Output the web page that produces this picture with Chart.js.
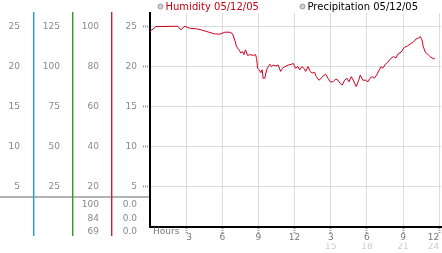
<!DOCTYPE html>
<html lang="en">
<head>
<meta charset="UTF-8">
<title>Humidity 05/12/05</title>
<script src="https://cdn.jsdelivr.net/npm/chart.js"></script>
<style>
  html, body { margin: 0; padding: 0; background: #fff; }
</style>
</head>
<body>
<canvas id="humChart" width="442" height="253"></canvas>
<script>
// readings (hours since midnight, value on the 0-25 scale)
const hours = [0, 0.5, 2.3, 2.58, 2.87, 3.28, 3.97, 4.24, 4.66, 5.36, 5.8, 6.21, 6.63, 6.85, 7.04, 7.18,
  7.38, 7.54, 7.68, 7.79, 7.93, 8.1, 8.29, 8.56, 8.76, 8.85, 8.93, 9.06, 9.2, 9.31, 9.39, 9.53,
  9.68, 9.81, 9.95, 10.09, 10.22, 10.42, 10.64, 10.84, 11.0, 11.2, 11.47, 11.75, 11.89, 12.08,
  12.28, 12.42, 12.61, 12.77, 12.92, 13.11, 13.3, 13.46, 13.66, 13.8, 14.02, 14.21, 14.41, 14.58,
  14.77, 14.96, 15.18, 15.41, 15.6, 15.79, 15.96, 16.15, 16.35, 16.51, 16.7, 16.9, 17.12, 17.32,
  17.45, 17.67, 17.9, 18.09, 18.26, 18.42, 18.61, 18.81, 19.03, 19.17, 19.31, 19.53, 19.73, 20.0,
  20.19, 20.42, 20.56, 20.83, 21.1, 21.39, 21.66, 21.85, 22.08, 22.3, 22.43, 22.57, 22.68, 22.85,
  23.05, 23.24, 23.4, 23.55, 23.63];
const humidity = [24.4, 25.0, 25.05, 24.6, 25.05, 24.8, 24.7, 24.6, 24.4, 24.1, 24.05, 24.3, 24.3, 24.1, 23.3, 22.5,
  22.1, 21.7, 21.9, 21.5, 22.1, 21.4, 21.5, 21.4, 21.5, 21.0, 19.8, 19.6, 19.25, 19.6, 18.55, 18.55,
  19.6, 20.0, 20.3, 20.0, 20.2, 20.1, 20.2, 19.4, 19.8, 20.0, 20.2, 20.3, 20.4, 19.8,
  20.0, 19.6, 20.0, 19.8, 19.4, 20.0, 19.4, 19.2, 19.3, 18.75, 18.3, 18.55, 18.9, 19.05,
  18.55, 18.1, 18.1, 18.45, 18.3, 17.9, 17.7, 18.3, 18.55, 18.1, 18.75, 18.2, 17.5, 18.3,
  18.95, 18.3, 18.3, 18.1, 18.55, 18.75, 18.55, 18.95, 19.6, 20.0, 19.8, 20.3, 20.55, 21.05,
  21.25, 21.1, 21.55, 21.8, 22.4, 22.6, 22.9, 23.05, 23.45, 23.6, 23.75, 23.35, 22.5, 21.8,
  21.55, 21.25, 21.1, 20.95, 21.1];
const precipitation = [];

const hourTicks = [3, 6, 9, 12, 15, 18, 21, 24];
const hourLabels = ['3', '6', '9', '12', '3', '6', '9', '12'];
const hour2Labels = ['', '', '', '', '15', '18', '21', '24'];

const leftTicks = [5, 10, 15, 20, 25];
const colA = ['5', '10', '15', '20', '25'];
const colB = ['25', '50', '75', '100', '125'];
const colC = ['20', '40', '60', '80', '100'];
const colD = ['5', '10', '15', '20', '25'];
const lowC = ['100', '84', '69'];
const lowD = ['0.0', '0.0', '0.0'];

Chart.defaults.font.family = '"DejaVu Sans", sans-serif';
Chart.defaults.font.size = 9;

const fixedTicks = list => s => { s.ticks = list.map(v => ({ value: v })); };
// fixed box sizes, and no label overhang padding
const fitWidth = w => s => { s.width = w; s.paddingTop = 0; s.paddingBottom = 0; };
const fitHeight = h => s => { s.height = h; s.paddingLeft = 0; s.paddingRight = 0; };

function sideAxis(labels, weight, width, pad) {
  return {
    type: 'linear', position: 'left', min: 0, max: 26.7, weight: weight,
    afterBuildTicks: fixedTicks(leftTicks),
    afterFit: fitWidth(width),
    ticks: { callback: (v, i) => labels[i], color: '#888', padding: pad },
    grid: { display: false, drawTicks: false },
    border: { display: false }
  };
}

const extras = {
  id: 'extras',
  afterDraw(chart) {
    const ctx = chart.ctx;
    const s = chart.scales;
    ctx.save();
    ctx.fillStyle = '#b4b4b4';
    ctx.fillRect(0, 196, s.y.right - 1, 2);
    [['yA', '#1f9fd6'], ['yB', '#22a022'], ['yC', '#c8202c']].forEach(([id, c]) => {
      ctx.fillStyle = c;
      ctx.fillRect(Math.round(s[id].right), 12, 1.4, 224);
    });

    ctx.font = '9px "DejaVu Sans"';
    ctx.fillStyle = '#888';
    ctx.textAlign = 'right';
    ctx.textBaseline = 'middle';
    const rows = [205, 218.5, 232];
    rows.forEach((ry, i) => {
      ctx.fillText(lowC[i], s.yC.right - 12, ry);
      ctx.fillText(lowD[i], s.y.right - 13, ry);
    });

    ctx.textAlign = 'left';
    ctx.fillStyle = '#777';
    ctx.fillText('Hours', s.x.left + 3, 231.5);

    // legend
    ctx.font = '10px "DejaVu Sans"';
    const legendX = [160.5, 302.5];
    chart.data.datasets.forEach((ds, i) => {
      const cx = legendX[i];
      ctx.beginPath();
      ctx.arc(cx, 6.5, 2.5, 0, Math.PI * 2);
      ctx.fillStyle = '#d0d0d0';
      ctx.fill();
      ctx.strokeStyle = '#999';
      ctx.lineWidth = 1;
      ctx.stroke();
      ctx.fillStyle = ds.legendColor;
      ctx.fillText(ds.label, cx + 5, 7);
    });
    ctx.restore();
  }
};

new Chart(document.getElementById('humChart'), {
  type: 'line',
  data: {
    datasets: [{
      label: 'Humidity 05/12/05',
      data: hours.map((h, i) => ({ x: h, y: humidity[i] })),
      borderColor: '#cc0022',
      legendColor: '#cc0011',
      borderWidth: 1,
      pointRadius: 0,
      tension: 0,
      fill: false
    }, {
      label: 'Precipitation 05/12/05',
      data: precipitation,
      borderColor: '#888',
      legendColor: '#000',
      pointRadius: 0
    }]
  },
  options: {
    responsive: false,
    animation: false,
    layout: { padding: { top: 13, right: 1, left: 0, bottom: 0 } },
    plugins: { legend: { display: false }, tooltip: { enabled: false } },
    scales: {
      yA: sideAxis(colA, 3, 33, 13),
      yB: sideAxis(colB, 2, 39, 12),
      yC: sideAxis(colC, 1, 39, 12),
      y: {
        type: 'linear', position: 'left', min: 0, max: 26.7, weight: 0,
        afterBuildTicks: fixedTicks(leftTicks),
        afterFit: fitWidth(39),
        ticks: { callback: (v, i) => colD[i], color: '#888', padding: 6 },
        grid: { color: '#dcdcdc', tickLength: 7, tickColor: '#999', tickWidth: 2, tickBorderDash: [1, 1] },
        border: { color: '#000', width: 2 }
      },
      x: {
        type: 'linear', position: 'bottom', min: 0, max: 24.15, weight: 0,
        afterBuildTicks: fixedTicks(hourTicks),
        afterFit: fitHeight(16),
        ticks: { callback: (v, i) => hourLabels[i], color: '#777', padding: -1, maxRotation: 0, autoSkip: false,
          align: 'inner', font: { lineHeight: 1 } },
        grid: { color: '#dcdcdc', tickLength: 7, tickColor: '#999', tickWidth: 2, tickBorderDash: [1, 1] },
        border: { color: '#000', width: 2 }
      },
      x2: {
        type: 'linear', position: 'bottom', min: 0, max: 24.15, weight: 1,
        afterBuildTicks: fixedTicks(hourTicks),
        afterFit: fitHeight(10.3),
        ticks: { callback: (v, i) => hour2Labels[i], color: '#ccc', padding: -1, maxRotation: 0, autoSkip: false,
          align: 'inner', font: { lineHeight: 1 } },
        grid: { display: false, drawTicks: false },
        border: { display: false }
      }
    }
  },
  plugins: [extras]
});
</script>
</body>
</html>
